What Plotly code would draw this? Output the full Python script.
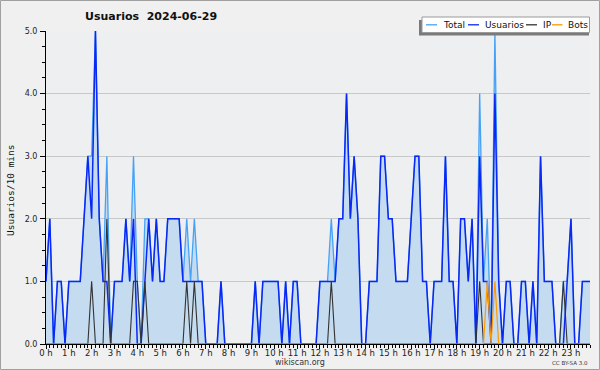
import plotly.graph_objects as go

# ---- data (10-minute slots, 24 h) ----
hour_labels = [f"{h} h" for h in range(24)]
y_tick_values = [0, 1, 2, 3, 4, 5]
y_tick_labels = ["0.0", "1.0", "2.0", "3.0", "4.0", "5.0"]
legend_names = ["Total", "Usuarios", "IP", "Bots"]
title_text = "Usuarios\u00a0 2024-06-29"

usuarios = [
    1, 2, 0, 1, 1, 0, 1, 1, 1, 1, 2, 3, 2, 5, 2, 1, 1, 0, 1, 1, 1, 2, 1, 2,
    0, 0, 1, 2, 1, 2, 1, 1, 2, 2, 2, 2, 1, 1, 1, 1, 1, 1, 0, 0, 0, 0, 1, 0,
    0, 0, 0, 0, 0, 0, 0, 1, 0, 1, 1, 1, 1, 1, 0, 1, 0, 1, 1, 0, 0, 0, 0, 0,
    1, 1, 1, 1, 1, 2, 2, 4, 2, 3, 2, 0, 0, 1, 1, 1, 3, 3, 2, 2, 1, 1, 1, 1,
    2, 3, 3, 1, 1, 0, 1, 1, 1, 3, 1, 1, 0, 2, 2, 1, 2, 0, 3, 1, 1, 0, 4, 1,
    0, 1, 1, 0, 0, 1, 1, 0, 1, 0, 3, 1, 1, 1, 0, 0, 0, 1, 2, 0, 0, 1, 1, 1,
]
ip = [
    0, 0, 0, 0, 0, 0, 0, 0, 0, 0, 0, 0, 1, 0, 0, 0, 2, 0, 0, 0, 0, 0, 0, 1,
    1, 0, 1, 0, 0, 0, 0, 0, 0, 0, 0, 0, 0, 1, 0, 1, 0, 0, 0, 0, 0, 0, 0, 0,
    0, 0, 0, 0, 0, 0, 0, 0, 0, 0, 0, 0, 0, 0, 0, 0, 0, 0, 0, 0, 0, 0, 0, 0,
    0, 0, 0, 1, 0, 0, 0, 0, 0, 0, 0, 0, 0, 0, 0, 0, 0, 0, 0, 0, 0, 0, 0, 0,
    0, 0, 0, 0, 0, 0, 0, 0, 0, 0, 0, 0, 0, 0, 0, 0, 0, 0, 1, 0, 0, 0, 0, 0,
    0, 0, 0, 0, 0, 0, 0, 0, 0, 0, 0, 0, 0, 0, 0, 0, 1, 0, 0, 0, 0, 0, 0, 0,
]
bots = [
    0, 0, 0, 0, 0, 0, 0, 0, 0, 0, 0, 0, 0, 0, 0, 0, 0, 0, 0, 0, 0, 0, 0, 0,
    0, 0, 0, 0, 0, 0, 0, 0, 0, 0, 0, 0, 0, 0, 0, 0, 0, 0, 0, 0, 0, 0, 0, 0,
    0, 0, 0, 0, 0, 0, 0, 0, 0, 0, 0, 0, 0, 0, 0, 0, 0, 0, 0, 0, 0, 0, 0, 0,
    0, 0, 0, 0, 0, 0, 0, 0, 0, 0, 0, 0, 0, 0, 0, 0, 0, 0, 0, 0, 0, 0, 0, 0,
    0, 0, 0, 0, 0, 0, 0, 0, 0, 0, 0, 0, 0, 0, 0, 0, 0, 0, 0, 0, 1, 0, 1, 0,
    0, 0, 0, 0, 0, 0, 0, 0, 0, 0, 0, 0, 0, 0, 0, 0, 0, 0, 0, 0, 0, 0, 0, 0,
]
total = [
    1, 2, 0, 1, 1, 0, 1, 1, 1, 1, 2, 3, 3, 5, 2, 1, 3, 0, 1, 1, 1, 2, 1, 3,
    1, 0, 2, 2, 1, 2, 1, 1, 2, 2, 2, 2, 1, 2, 1, 2, 1, 1, 0, 0, 0, 0, 1, 0,
    0, 0, 0, 0, 0, 0, 0, 1, 0, 1, 1, 1, 1, 1, 0, 1, 0, 1, 1, 0, 0, 0, 0, 0,
    1, 1, 1, 2, 1, 2, 2, 4, 2, 3, 2, 0, 0, 1, 1, 1, 3, 3, 2, 2, 1, 1, 1, 1,
    2, 3, 3, 1, 1, 0, 1, 1, 1, 3, 1, 1, 0, 2, 2, 1, 2, 0, 4, 1, 2, 0, 5, 1,
    0, 1, 1, 0, 0, 1, 1, 0, 1, 0, 3, 1, 1, 1, 0, 0, 1, 1, 2, 0, 0, 1, 1, 1,
]

# time of each 10-minute slot, in hours
t = [i / 6 for i in range(len(usuarios))]

C_TOTAL = "#45a2f7"
C_FILL = "#c5dcf0"
C_USER = "#0a28f5"
C_IP = "#333333"
C_BOTS = "#ff9900"

W, H = 600, 370
L, R, T, B = 46, 10, 31, 26
PW, PH = W - L - R, H - T - B


def px(x):
    return (x - L) / PW


def py(y):
    return (H - B - y) / PH


fig = go.Figure()
fig.add_trace(go.Scatter(x=t, y=total, mode="lines", name=legend_names[0],
                         line=dict(color=C_TOTAL, width=1.3),
                         fill="tozeroy", fillcolor=C_FILL, showlegend=False))
fig.add_trace(go.Scatter(x=t, y=usuarios, mode="lines", name=legend_names[1],
                         line=dict(color=C_USER, width=1.5), showlegend=False))
fig.add_trace(go.Scatter(x=t, y=ip, mode="lines", name=legend_names[2],
                         line=dict(color=C_IP, width=1.1), showlegend=False))
fig.add_trace(go.Scatter(x=t, y=bots, mode="lines", name=legend_names[3],
                         line=dict(color=C_BOTS, width=1.2), showlegend=False))

tickfont = dict(family="DejaVu Sans", size=8.5, color="#222")

fig.update_layout(
    width=W, height=H,
    margin=dict(l=L, r=R, t=T, b=B),
    paper_bgcolor="#f0f0f0",
    plot_bgcolor="#eeeff1",
    title=dict(text="<b>" + title_text + "</b>", x=85 / W, xanchor="left",
               xref="container", y=1 - 16 / H, yanchor="middle", yref="container",
               font=dict(family="DejaVu Sans", size=11, color="#111")),
    xaxis=dict(range=[0, t[-1]], tickmode="array", tickvals=list(range(24)),
               ticktext=hour_labels, ticks="outside", ticklen=4, tickcolor="#000",
               minor=dict(tickmode="linear", tick0=0, dtick=1 / 6, ticks="outside",
                          ticklen=3, tickcolor="#000", showgrid=False),
               showline=True, linecolor="#000", linewidth=1, showgrid=False,
               zeroline=False, tickfont=tickfont, ticklabelstandoff=-3),
    yaxis=dict(range=[0, 5], tickmode="array", tickvals=y_tick_values,
               ticktext=y_tick_labels, ticks="outside", ticklen=5, tickcolor="#000",
               minor=dict(tickmode="linear", tick0=0, dtick=0.25, ticks="outside",
                          ticklen=3, tickcolor="#000", showgrid=False),
               showline=True, linecolor="#000", linewidth=1, showgrid=True,
               gridcolor="#c8c8c8", gridwidth=1, zeroline=False,
               tickfont=dict(family="DejaVu Sans", size=8, color="#222"),
               ticklabelstandoff=1),
)

shapes = []
# outer frame
shapes.append(dict(type="rect", xref="paper", yref="paper",
                   x0=px(0.5), x1=px(599.5), y0=py(0.5), y1=py(369.5),
                   line=dict(color="#a0a0a0", width=1), fillcolor="rgba(0,0,0,0)",
                   layer="below"))
# legend shadow + box
shapes.append(dict(type="rect", xref="paper", yref="paper",
                   x0=px(419), x1=px(589), y0=py(20), y1=py(35.5),
                   line=dict(width=0), fillcolor="#7a7a7a", layer="above"))
shapes.append(dict(type="rect", xref="paper", yref="paper",
                   x0=px(422), x1=px(589.5), y0=py(17), y1=py(32.5),
                   line=dict(color="#9a9a9a", width=1), fillcolor="#ffffff",
                   layer="above"))
leg_lines = [(426, 437, C_TOTAL), (468, 479, C_USER), (526, 537, C_IP), (552, 562.5, C_BOTS)]
for x0, x1, c in leg_lines:
    shapes.append(dict(type="line", xref="paper", yref="paper",
                       x0=px(x0), x1=px(x1), y0=py(24.8), y1=py(24.8),
                       line=dict(color=c, width=1.3), layer="above"))
fig.update_layout(shapes=shapes)

annotations = []
leg_text_x = [440.5, 482.5, 541, 566]
for name, x in zip(legend_names, leg_text_x):
    annotations.append(dict(text=name, xref="paper", yref="paper", x=px(x), y=py(24.8),
                            xanchor="left", yanchor="middle", showarrow=False,
                            font=dict(family="DejaVu Sans", size=9, color="#111")))
annotations.append(dict(text="Usuarios/10 mins", xref="paper", yref="paper",
                        x=px(10), y=py(190), textangle=-90, xanchor="center",
                        yanchor="middle", showarrow=False,
                        font=dict(family="DejaVu Sans Mono", size=9.5, color="#111")))
annotations.append(dict(text="wikiscan.org", xref="paper", yref="paper",
                        x=px(300), y=py(362.5), xanchor="center", yanchor="middle",
                        showarrow=False,
                        font=dict(family="DejaVu Sans", size=8, color="#333")))
annotations.append(dict(text="CC BY-SA 3.0", xref="paper", yref="paper",
                        x=px(590), y=py(363), xanchor="right", yanchor="middle",
                        showarrow=False,
                        font=dict(family="DejaVu Sans", size=5.5, color="#333")))
fig.update_layout(annotations=annotations)

fig.write_html("out.html", config={"displayModeBar": False},
               post_script="document.body.style.margin='0';document.body.style.overflow='hidden';")
